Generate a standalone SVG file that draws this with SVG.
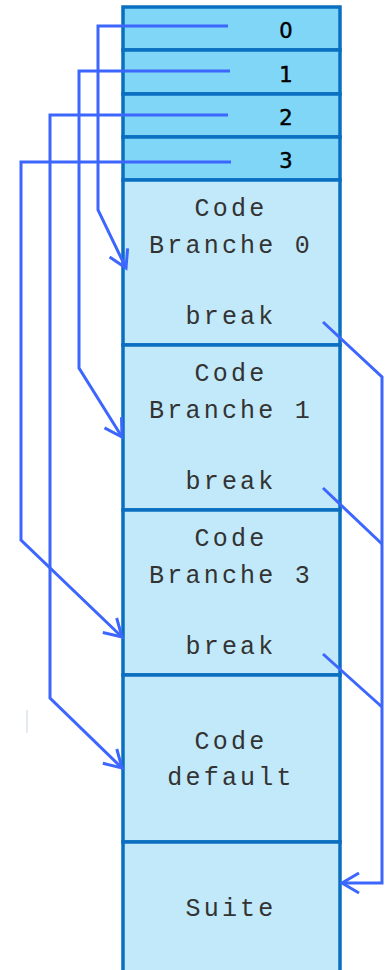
<svg xmlns="http://www.w3.org/2000/svg" width="387" height="970" viewBox="0 0 387 970">
  <style>
    .cell { fill: #7fd6f6; stroke: #0a6fc0; stroke-width: 3.5; }
    .block { fill: #c1e9f9; stroke: #0a6fc0; stroke-width: 3.5; }
    .idx { font-family: "DejaVu Sans", sans-serif; font-size: 21px; fill: #000; stroke: #000; stroke-width: 0.5; text-anchor: middle; }
    .code { font-family: "Liberation Mono", monospace; font-size: 25px; letter-spacing: 3.2px; fill: #333; text-anchor: middle; }
    .link { fill: none; stroke: #3d66ff; stroke-width: 3; stroke-linejoin: miter; }
  </style>
  <defs>
    <marker id="open" markerUnits="userSpaceOnUse" markerWidth="40" markerHeight="40" refX="0" refY="0" viewBox="-20 -20 40 40" orient="auto">
      <path d="M-17,-10 L0,0 L-17,10" fill="none" stroke="#3d66ff" stroke-width="3"/>
    </marker>
  </defs>

  <!-- jump table -->
  <g id="case0"><rect class="cell" x="123" y="7" width="217" height="43"/><text class="idx" x="286" y="38">0</text></g>
  <g id="case1"><rect class="cell" x="123" y="50" width="217" height="44"/><text class="idx" x="286" y="82">1</text></g>
  <g id="case2"><rect class="cell" x="123" y="94" width="217" height="43"/><text class="idx" x="286" y="125">2</text></g>
  <g id="case3"><rect class="cell" x="123" y="137" width="217" height="43"/><text class="idx" x="286" y="168">3</text></g>

  <!-- code blocks -->
  <g id="branch0">
    <rect class="block" x="123" y="180" width="217" height="165"/>
    <text class="code" x="231" y="216">Code</text>
    <text class="code" x="231" y="253">Branche 0</text>
    <text class="code" x="231" y="324">break</text>
  </g>
  <g id="branch1">
    <rect class="block" x="123" y="345" width="217" height="165"/>
    <text class="code" x="231" y="381">Code</text>
    <text class="code" x="231" y="418">Branche 1</text>
    <text class="code" x="231" y="489">break</text>
  </g>
  <g id="branch3">
    <rect class="block" x="123" y="510" width="217" height="165"/>
    <text class="code" x="231" y="546">Code</text>
    <text class="code" x="231" y="583">Branche 3</text>
    <text class="code" x="231" y="654">break</text>
  </g>
  <g id="default">
    <rect class="block" x="123" y="675" width="217" height="167"/>
    <text class="code" x="231" y="749">Code</text>
    <text class="code" x="231" y="785">default</text>
  </g>
  <g id="suite">
    <rect class="block" x="123" y="842" width="217" height="140"/>
    <text class="code" x="231" y="916">Suite</text>
  </g>

  <!-- connectors -->
  <g id="connectors">
    <polyline class="link" points="228,26 98,26 98,210 126,268" marker-end="url(#open)"/>
    <polyline class="link" points="230,71 79,71 79,368 122,437" marker-end="url(#open)"/>
    <polyline class="link" points="228,115 50,115 50,698 122,768" marker-end="url(#open)"/>
    <polyline class="link" points="231,162 21,162 21,540 122,637" marker-end="url(#open)"/>
    <polyline class="link" points="323,322 382,377 382,883 342,883" marker-end="url(#open)"/>
    <polyline class="link" points="323,488 382,544"/>
    <polyline class="link" points="323,654 382,707"/>
    <line x1="27" y1="710" x2="27" y2="733" stroke="#dde3ee" stroke-width="1.5"/>
  </g>
</svg>
